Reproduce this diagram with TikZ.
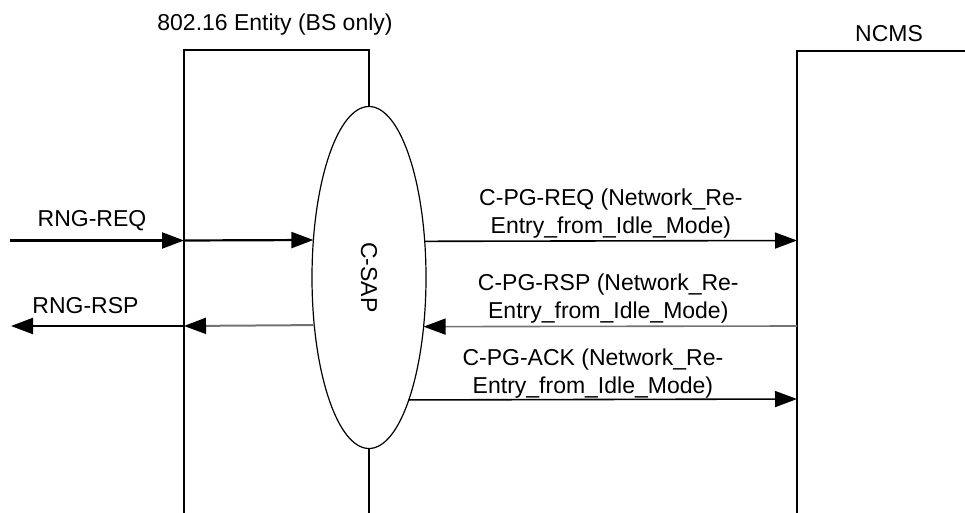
\documentclass[tikz,border=0pt]{standalone}
\usepackage{graphicx}
\usepackage{fontspec}
\setmainfont{Liberation Sans}
\usetikzlibrary{shapes.geometric,arrows.meta}
\tikzset{
    msg/.style={line width=1.6pt, -{Triangle[length=22pt,width=16pt,color=black]}},
    msgbold/.style={msg, line width=2.2pt},
    msggray/.style={msg, draw=black!55},
    wall/.style={line width=2.8pt},
    twoline/.style={midway, above, align=center},
}
\begin{document}
\begin{tikzpicture}[x=1pt, y=-1pt, font=\fontsize{23}{28}\selectfont]
    \useasboundingbox (0,0) rectangle (965,513);

    % Elipse C-SAP
    \node[ellipse, draw, line width=1.2pt, minimum width=114pt, minimum height=342pt,
          inner sep=0pt, outer sep=0pt] (csap) at (369,277.5) {\rotatebox{-90}{C-SAP}};

    % Entidad 802.16
    \coordinate (bsbl) at (184,513);
    \coordinate (bstl) at (184,50);
    \coordinate (bstr) at (369,50);
    \coordinate (bsbr) at (369,513);
    \draw[wall] (bsbl) -- (bstl) -- (bstr) -- (csap.north);
    \draw[wall] (csap.south) -- (bsbr);
    \node[anchor=base] (bslbl) at (275,31) {802.16 Entity (BS only)};

    % NCMS
    \coordinate (ncmsb) at (797,513);
    \coordinate (ncmst) at (797,51);
    \coordinate (ncmsr) at (965,51);
    \draw[line width=1.5pt] (ncmsb) -- (ncmst) -- (ncmsr);
    \node[anchor=base] (ncmslbl) at (889,42) {NCMS};

    % Puntos de los mensajes
    \coordinate (reqin) at (10,240.5);
    \coordinate (reqbs) at (184,240.5);
    \coordinate (reqnc) at (797,240.5);
    \coordinate (rspout) at (11,326);
    \coordinate (rspbs) at (184,326);
    \coordinate (rspnc) at (797,326);
    \coordinate (acknc) at (797,399);

    % RNG-REQ / RNG-RSP
    \draw[msgbold] (reqin) -- (reqbs) node[midway, anchor=base, yshift=14pt, xshift=-5pt] (reqlbl) {RNG-REQ};
    \draw[msgbold] (reqbs) -- (csap.146.4);
    \draw[msggray, line width=2pt] (csap.221.6) -- (rspbs);
    \draw[msgbold] (rspbs) -- (rspout) node[midway, anchor=base, yshift=13pt, xshift=-12pt] (rsplbl) {RNG-RSP};

    % Mensajes C-PG
    \draw[msg] (csap.33.6) -- (reqnc)
        node[twoline, inner sep=2pt] (cpgreq) {C-PG-REQ (Network\_Re-\\Entry\_from\_Idle\_Mode)};
    \draw[msggray] (rspnc) -- (csap.318.4)
        node[twoline, inner sep=2pt, xshift=-2pt] (cpgrsp) {C-PG-RSP (Network\_Re-\\Entry\_from\_Idle\_Mode)};
    \draw[msg] (csap.288.3) -- (acknc)
        node[twoline, inner sep=0pt, xshift=-10pt] (cpgack) {C-PG-ACK (Network\_Re-\\Entry\_from\_Idle\_Mode)};
\end{tikzpicture}
\end{document}
